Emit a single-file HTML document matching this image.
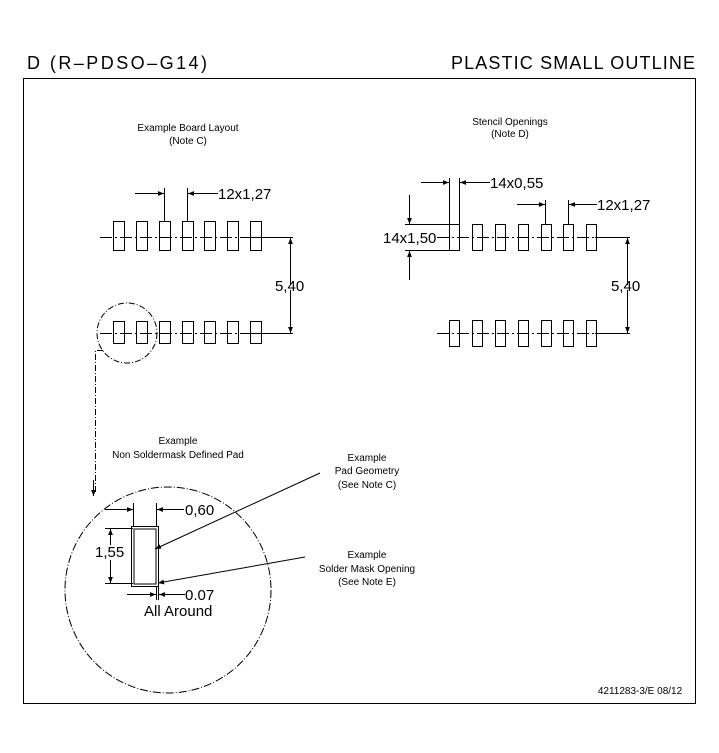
<!DOCTYPE html>
<html><head><style>
html,body{margin:0;padding:0;background:#fff;}
svg{display:block;font-family:"Liberation Sans",sans-serif;}
</style></head><body>
<svg width="719" height="753" viewBox="0 0 719 753" xmlns="http://www.w3.org/2000/svg">
<defs>
<marker id="a" viewBox="0 0 10 10" refX="10" refY="5" markerWidth="12" markerHeight="6" markerUnits="userSpaceOnUse" orient="auto"><path d="M0,1 L10,5 L0,9 z" fill="#000"/></marker>
</defs>
<g fill="#000" font-size="18">
<text x="27" y="69" textLength="180">D (R–PDSO–G14)</text>
<text x="451" y="69" textLength="244">PLASTIC SMALL OUTLINE</text>
</g>
<rect x="23.5" y="78.5" width="672" height="625" fill="none" stroke="#000" stroke-width="1"/>
<g fill="#000" font-size="10" text-anchor="middle">
<text x="188" y="131">Example Board Layout</text>
<text x="188" y="144">(Note C)</text>
<text x="510" y="125">Stencil Openings</text>
<text x="510" y="137">(Note D)</text>
<text x="178" y="444">Example</text>
<text x="178" y="458">Non Soldermask Defined Pad</text>
<text x="367" y="461">Example</text>
<text x="367" y="474">Pad Geometry</text>
<text x="367" y="488">(See Note C)</text>
<text x="367" y="558">Example</text>
<text x="367" y="572">Solder Mask Opening</text>
<text x="367" y="585">(See Note E)</text>
<text x="640" y="694" font-size="10">4211283-3/E  08/12</text>
</g>
<g stroke="#000" stroke-width="1" fill="none">
<!-- left layout -->
<path d="M100 237.5 H293 M100 333.5 H293" stroke-dasharray="12,3,2,3"/>
<path d="M250 237.5 H293 M250 333.5 H293"/>
<g>
<rect x="113.5" y="221.5" width="11" height="29"/><rect x="136.5" y="221.5" width="11" height="29"/><rect x="159.5" y="221.5" width="11" height="29"/><rect x="182.5" y="221.5" width="11" height="29"/><rect x="204.5" y="221.5" width="11" height="29"/><rect x="227.5" y="221.5" width="11" height="29"/><rect x="250.5" y="221.5" width="11" height="29"/>
<rect x="113.5" y="321.5" width="11" height="22"/><rect x="136.5" y="321.5" width="11" height="22"/><rect x="159.5" y="321.5" width="11" height="22"/><rect x="182.5" y="321.5" width="11" height="22"/><rect x="204.5" y="321.5" width="11" height="22"/><rect x="227.5" y="321.5" width="11" height="22"/><rect x="250.5" y="321.5" width="11" height="22"/>
</g>
<path d="M164.5 188 V221 M187.5 188 V221"/>
<path d="M135 193.5 H164" marker-end="url(#a)"/>
<path d="M218 193.5 H188" marker-end="url(#a)"/>
<path d="M290.5 285 V238" marker-end="url(#a)"/>
<path d="M290.5 290 V333" marker-end="url(#a)"/>
<circle cx="127" cy="333" r="30" stroke-dasharray="6,2,1,2"/>
<path d="M103 350.5 H95.5 V493" stroke-dasharray="6,2,1,2"/>
<path d="M93.5 480 V496" marker-end="url(#a)"/>
<!-- right layout -->
<path d="M437 237.5 H630 M437 333.5 H630" stroke-dasharray="12,3,2,3"/>
<path d="M595 237.5 H630 M595 333.5 H630"/>
<g>
<rect x="449.5" y="224.5" width="10" height="26"/><rect x="472.5" y="224.5" width="10" height="26"/><rect x="495.5" y="224.5" width="10" height="26"/><rect x="518.5" y="224.5" width="10" height="26"/><rect x="541.5" y="224.5" width="10" height="26"/><rect x="563.5" y="224.5" width="10" height="26"/><rect x="586.5" y="224.5" width="10" height="26"/>
<rect x="449.5" y="320.5" width="10" height="26"/><rect x="472.5" y="320.5" width="10" height="26"/><rect x="495.5" y="320.5" width="10" height="26"/><rect x="518.5" y="320.5" width="10" height="26"/><rect x="541.5" y="320.5" width="10" height="26"/><rect x="563.5" y="320.5" width="10" height="26"/><rect x="586.5" y="320.5" width="10" height="26"/>
</g>
<path d="M449.5 178 V224 M459.5 178 V224"/>
<path d="M421 182.5 H449" marker-end="url(#a)"/>
<path d="M490 182.5 H460" marker-end="url(#a)"/>
<path d="M545.5 200 V224 M568.5 200 V224"/>
<path d="M517 204.5 H545" marker-end="url(#a)"/>
<path d="M597 204.5 H569" marker-end="url(#a)"/>
<path d="M405 224.5 H449 M405 250.5 H449"/>
<path d="M409.5 195 V224" marker-end="url(#a)"/>
<path d="M409.5 280 V251" marker-end="url(#a)"/>
<path d="M627.5 285 V238" marker-end="url(#a)"/>
<path d="M627.5 290 V333" marker-end="url(#a)"/>
<!-- detail -->
<circle cx="168" cy="590" r="103" stroke-dasharray="8,2,1,2"/>
<rect x="131.5" y="526.5" width="27" height="60"/>
<rect x="134" y="529" width="22" height="55"/>
<path d="M133.5 503 V526 M156.5 503 V526"/>
<path d="M105 509.5 H133" marker-end="url(#a)"/>
<path d="M184 509.5 H157" marker-end="url(#a)"/>
<path d="M105 528.5 H133 M105 583.5 H133"/>
<path d="M110.5 545 V529" marker-end="url(#a)"/>
<path d="M110.5 560 V583" marker-end="url(#a)"/>
<path d="M156.5 586 V600 M158.5 586 V600"/>
<path d="M127 594.5 H156" marker-end="url(#a)"/>
<path d="M185 594.5 H159" marker-end="url(#a)"/>
<path d="M320 473 L155 549" marker-end="url(#a)"/>
<path d="M305 557 L158 583" marker-end="url(#a)"/>
</g>
<g fill="#000" font-size="15">
<text x="218" y="199">12x1,27</text>
<text x="275" y="291">5,40</text>
<text x="490" y="188">14x0,55</text>
<text x="597" y="210">12x1,27</text>
<text x="383" y="243">14x1,50</text>
<text x="611" y="291">5,40</text>
<text x="185" y="515">0,60</text>
<text x="95" y="557">1,55</text>
<text x="185" y="600">0.07</text>
<text x="144" y="616">All Around</text>
</g>
<rect x="94" y="548" width="30" height="14" fill="#fff" opacity="0"/>
</svg>
</body></html>
